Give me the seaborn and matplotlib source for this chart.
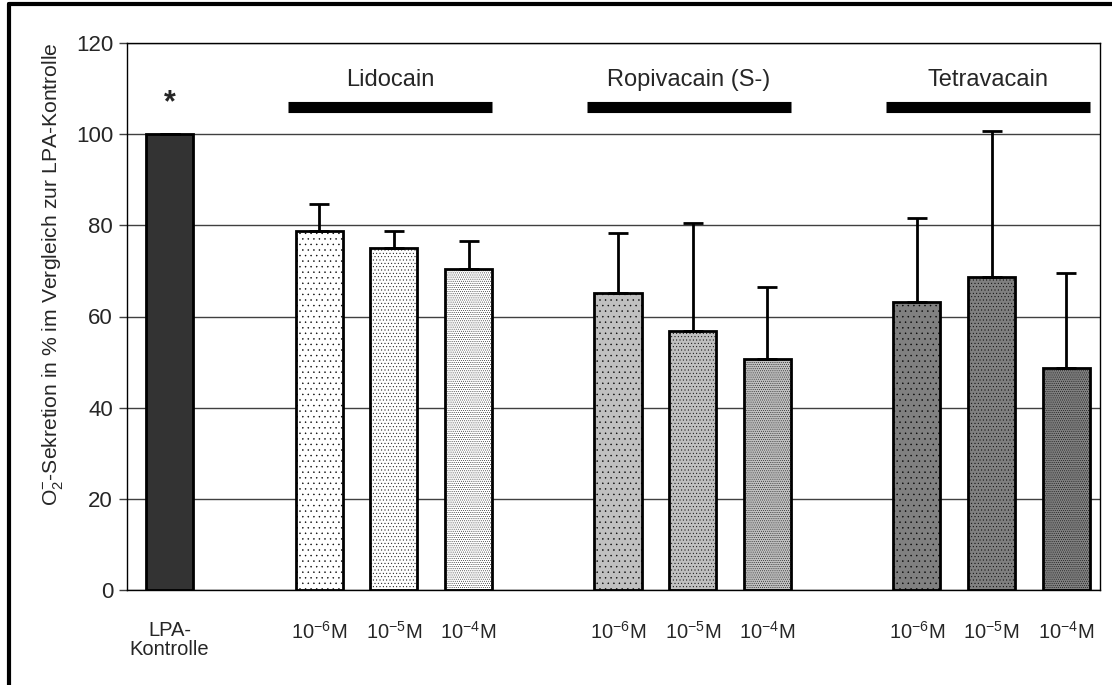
import numpy as np
import pandas as pd
import matplotlib
matplotlib.use("Agg")
import matplotlib.pyplot as plt
from matplotlib.lines import Line2D
import seaborn as sns

# ---- data ----
groups = ["LPA", "Lidocain", "Ropivacain (S-)", "Tetravacain"]
conc_labels = [r"10$^{\mathregular{-6}}$M", r"10$^{\mathregular{-5}}$M", r"10$^{\mathregular{-4}}$M"]
control_label = "LPA-\nKontrolle"
control_value = [100.0]
lido_values = [78.8, 75.0, 70.5]
lido_err = [5.9, 3.7, 6.0]
ropi_values = [65.2, 56.8, 50.6]
ropi_err = [13.1, 23.7, 15.8]
tetra_values = [63.2, 68.7, 48.6]
tetra_err = [18.5, 32.0, 20.9]
control_err = [0.0]

fills = ["#333333", "#ffffff", "#c0c0c0", "#808080"]
hatches_per_conc = ["...", ".....", "........"]

sns.set_theme(style="white")
plt.rcParams["font.family"] = ["Liberation Sans", "DejaVu Sans"]
plt.rcParams["hatch.linewidth"] = 0.3
plt.rcParams["hatch.color"] = "#404040"

# build table
rows = []
slot = 0
rows.append(dict(pos=slot, value=control_value[0], err=control_err[0], group=groups[0],
                 label=control_label, conc=-1))
slot += 2
group_centers = {}
for g, vals, errs in [(groups[1], lido_values, lido_err),
                      (groups[2], ropi_values, ropi_err),
                      (groups[3], tetra_values, tetra_err)]:
    group_centers[g] = slot + 1
    for i, (v, e) in enumerate(zip(vals, errs)):
        rows.append(dict(pos=slot + i, value=v, err=e, group=g, label=conc_labels[i], conc=i))
    slot += 4
df = pd.DataFrame(rows)

fig = plt.figure(figsize=(11.12, 6.85), dpi=100)
ax = fig.add_axes([127 / 1112, 1 - 590 / 685, (1100 - 127) / 1112, (590 - 43) / 685])

palette = {g: c for g, c in zip(groups, fills)}
sns.barplot(data=df, x="pos", y="value", hue="group", palette=palette,
            native_scale=True, width=0.63, dodge=False, errorbar=None,
            edgecolor="black", linewidth=2, saturation=1, legend=False, ax=ax)

# hatches
bars = sorted([p for p in ax.patches if p.get_height() > 0], key=lambda p: p.get_x())
for p, (_, r) in zip(bars, df.sort_values("pos").iterrows()):
    if r["conc"] >= 0:
        p.set_hatch(hatches_per_conc[r["conc"]])

# error bars (upward only)
ax.errorbar(df["pos"], df["value"], yerr=[np.zeros(len(df)), df["err"]],
            fmt="none", ecolor="black", elinewidth=2, capsize=7, capthick=2, zorder=5)

ax.set_xlim(-0.57, 12.45)
ax.set_ylim(0, 120)
ax.set_yticks(np.arange(0, 121, 20))
ax.yaxis.grid(True, color="#404040", linewidth=1)
ax.set_axisbelow(True)
ax.set_xticks(df["pos"])
ax.set_xticklabels(df["label"], fontsize=14.5, linespacing=1.05)
ax.tick_params(axis="x", length=0, pad=22)
ax.tick_params(axis="y", length=6, width=1, direction="out", left=True, labelsize=16, pad=4, color="#404040")
ax.set_xlabel("")
ax.set_ylabel(r"O$_{\mathregular{2}}^{\mathregular{-}}$-Sekretion in % im Vergleich zur LPA-Kontrolle",
              fontsize=15.2)
ax.yaxis.set_label_coords(-0.064, 0.578)
for s in ax.spines.values():
    s.set_visible(True)
    s.set_color("black")
    s.set_linewidth(1)

# group annotations
for g in groups[1:]:
    c = group_centers[g] - 0.05
    ax.plot([c - 1.37, c + 1.37], [106.0, 106.0], color="black", linewidth=8, solid_capstyle="butt", clip_on=False)
    ax.text(c, 109.5, g, ha="center", va="bottom", fontsize=17)
ax.text(0, 103.5, "*", ha="center", va="bottom", fontsize=22, fontweight="bold")

# outer frame
fig.add_artist(Line2D([9 / 1112, 9 / 1112], [0, 1 - 4 / 685], transform=fig.transFigure, color="black", linewidth=3))
fig.add_artist(Line2D([9 / 1112, 1], [1 - 4 / 685, 1 - 4 / 685], transform=fig.transFigure, color="black", linewidth=3))

fig.savefig("out.png", dpi=100)
